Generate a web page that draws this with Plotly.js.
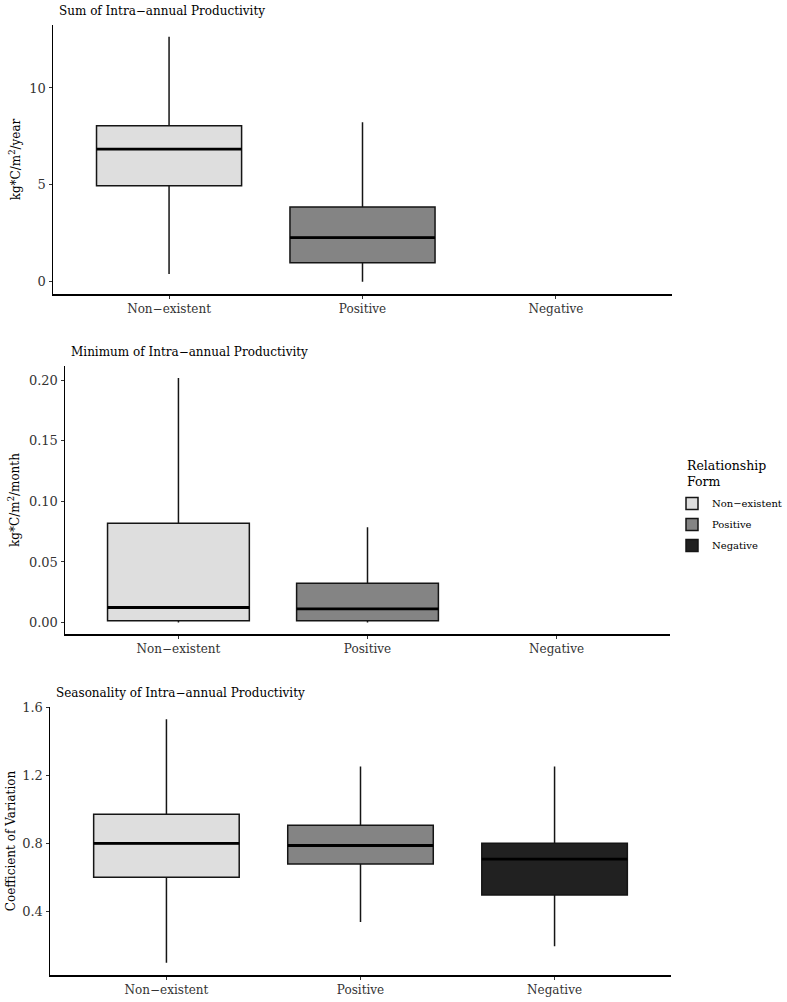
<!DOCTYPE html>
<html>
<head>
<meta charset="utf-8">
<script src="https://cdn.plot.ly/plotly-3.0.1.min.js"></script>
<style>
  html, body { margin: 0; padding: 0; background: #fff; overflow: hidden; }
  #chart { width: 787px; height: 1002px; }
</style>
</head>
<body>
<div id="chart"></div>
<script>
// Relationship-form groups and their fill colours
const groups = ["Non\u2212existent", "Positive", "Negative"];
const fills = ["#DEDEDE", "#848484", "#212121"];
const legendTitle = "Relationship<br>Form";

// Panel titles and y-axis labels
const panelTitles = [
  "Sum of Intra\u2212annual Productivity",
  "Minimum of Intra\u2212annual Productivity",
  "Seasonality of Intra\u2212annual Productivity"
];
const yTitles = [
  "kg*C/m<sup>2</sup>/year",
  "kg*C/m<sup>2</sup>/month",
  "Coefficient of Variation"
];

// Box statistics per panel, one entry per group (null = no data)
// [lower whisker, q1, median, q3, upper whisker]
const sumStats = [
  [0.40, 4.95, 6.85, 8.05, 12.65],
  [0.00, 0.98, 2.28, 3.86, 8.23],
  null
];
const minStats = [
  [0.0000, 0.0015, 0.0124, 0.0819, 0.2018],
  [0.0000, 0.0015, 0.0113, 0.0325, 0.0786],
  null
];
const seasStats = [
  [0.100, 0.603, 0.801, 0.972, 1.531],
  [0.340, 0.680, 0.789, 0.908, 1.253],
  [0.197, 0.499, 0.709, 0.803, 1.253]
];
const panels = [sumStats, minStats, seasStats];

// y ranges and tick values per panel
const yRanges = [[-0.63, 13.25], [-0.0095, 0.2118], [0.0285, 1.6025]];
const yTicks = [[0, 5, 10], [0, 0.05, 0.10, 0.15, 0.20], [0.4, 0.8, 1.2, 1.6]];
const yTickText = [["0", "5", "10"], ["0.00", "0.05", "0.10", "0.15", "0.20"], ["0.4", "0.8", "1.2", "1.6"]];

// Panel geometry in pixels: [left, right, top, bottom]
const W = 787, H = 1002;
const boxes = [[53, 672, 25, 294], [65, 670, 366, 634], [50, 671, 707, 975]];

const FONT = "DejaVu Serif, serif";
const BOXW = 0.75;
const positions = [1, 2, 3];

const traces = [];
const shapes = [];
panels.forEach((stats, p) => {
  const ax = p === 0 ? "" : String(p + 1);
  stats.forEach((s, g) => {
    if (!s) return;
    traces.push({
      type: "box",
      name: groups[g],
      legendgroup: groups[g],
      showlegend: p === 2,
      x: [positions[g]],
      lowerfence: [s[0]],
      q1: [s[1]],
      median: [s[2]],
      q3: [s[3]],
      upperfence: [s[4]],
      width: BOXW,
      whiskerwidth: 0,
      fillcolor: fills[g],
      line: { color: "#151515", width: 1.5 },
      boxpoints: false,
      hoverinfo: "skip",
      xaxis: "x" + ax,
      yaxis: "y" + ax
    });
    // thicker median bar drawn over the box
    shapes.push({
      type: "line",
      xref: "x" + ax, yref: "y" + ax,
      x0: positions[g] - BOXW / 2, x1: positions[g] + BOXW / 2,
      y0: s[2], y1: s[2],
      line: { color: "#000", width: 2.8 },
      layer: "above"
    });
  });
});

const layout = {
  width: W, height: H,
  autosize: false,
  margin: { l: 0, r: 0, t: 0, b: 0 },
  paper_bgcolor: "#fff",
  plot_bgcolor: "#fff",
  font: { family: FONT, color: "#1a1a1a" },
  showlegend: true,
  legend: {
    x: 1, y: 1 - 489 / H, xanchor: "right", yanchor: "top",
    font: { size: 10, family: FONT, color: "#000" },
    tracegroupgap: 2,
    itemwidth: 30
  },
  shapes: shapes,
  annotations: [{
    xref: "paper", yref: "paper",
    x: 685 / W, y: 1 - 456 / H,
    xanchor: "left", yanchor: "top", align: "left",
    text: legendTitle, showarrow: false,
    font: { size: 12.5, family: FONT, color: "#000" }
  }]
};

boxes.forEach((b, p) => {
  const ax = p === 0 ? "" : String(p + 1);
  layout["xaxis" + ax] = {
    domain: [b[0] / W, b[1] / W],
    anchor: "y" + ax,
    range: [0.4, 3.6],
    tickvals: positions,
    ticktext: groups,
    showgrid: false, zeroline: false,
    showline: true, linecolor: "#000", linewidth: 1.5,
    ticks: "outside", ticklen: 3, tickcolor: "#333", tickwidth: 1,
    tickfont: { size: 12, family: FONT, color: "#333" },
    fixedrange: true
  };
  layout["yaxis" + ax] = {
    domain: [1 - b[3] / H, 1 - b[2] / H],
    anchor: "x" + ax,
    range: yRanges[p],
    tickvals: yTicks[p],
    ticktext: yTickText[p],
    showgrid: false, zeroline: false,
    showline: true, linecolor: "#000", linewidth: 1.5,
    ticks: "outside", ticklen: 3, tickcolor: "#333", tickwidth: 1,
    tickfont: { size: 13, family: FONT, color: "#333" },
    title: { text: yTitles[p], font: { size: 12, family: FONT, color: "#000" }, standoff: p === 2 ? 4 : 6 },
    fixedrange: true
  };
  layout.annotations.push({
    xref: "paper", yref: "paper",
    x: (b[0] + 4) / W, y: 1 - (b[2] - 5) / H,
    xanchor: "left", yanchor: "bottom",
    text: panelTitles[p], showarrow: false,
    font: { size: 12, family: FONT, color: "#000" }
  });
});

Plotly.newPlot("chart", traces, layout, { staticPlot: true, displayModeBar: false });
</script>
</body>
</html>
